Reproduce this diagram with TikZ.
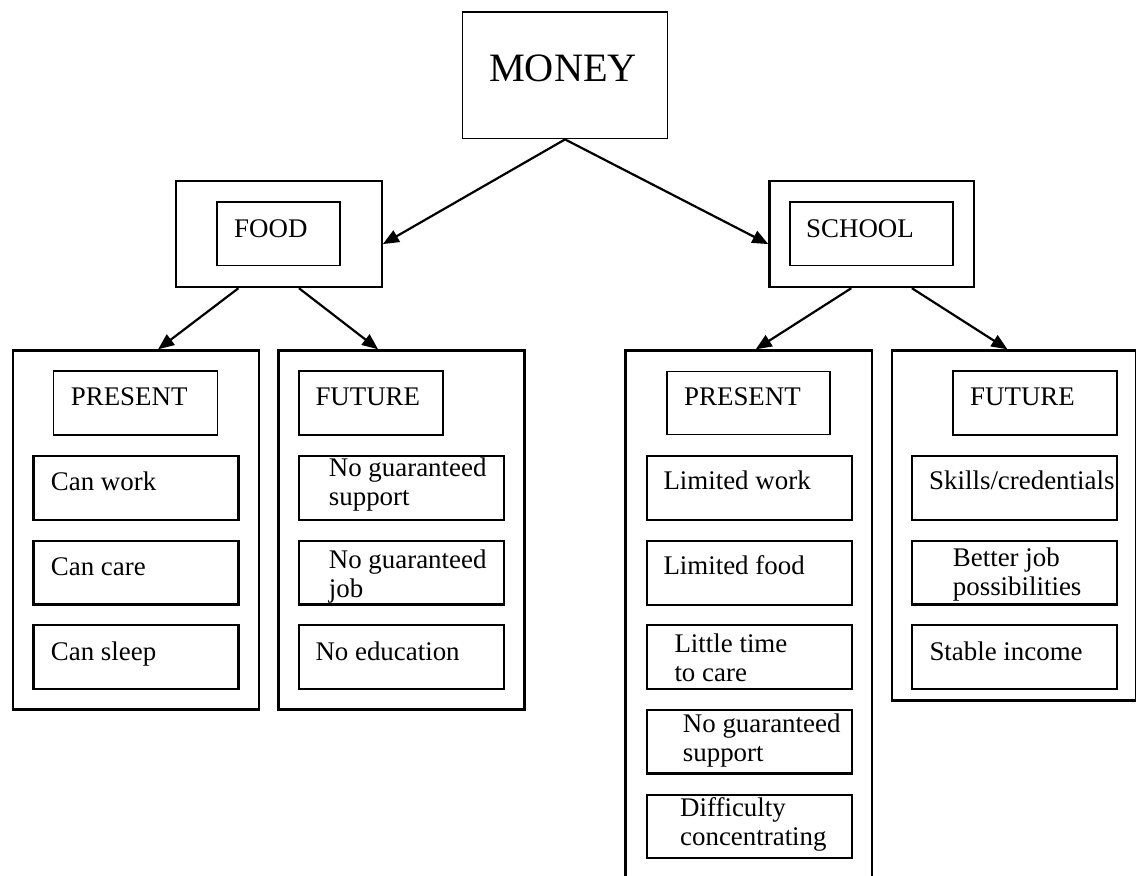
\documentclass[tikz,border=0pt]{standalone}
\usepackage{fontspec}
\setmainfont{Liberation Serif}
\usetikzlibrary{arrows.meta}
\newcommand{\twoline}[2]{\vtop{\hbox{#1}\hbox{#2}}}
\begin{document}
\begin{tikzpicture}[x=1pt,y=-1pt,
  outer/.style={draw, line width=2.2pt, inner sep=0pt, anchor=north west},
  hdr/.style={draw, line width=1.5pt, inner sep=0pt, anchor=north west},
  item/.style={draw, line width=2.2pt, inner sep=0pt, anchor=north west, minimum width=205pt},
  lbl/.style={anchor=base west, inner sep=0pt, font=\fontsize{26.9pt}{29pt}\selectfont},
  arr/.style={line width=2.2pt, -{Triangle[length=16pt,width=13pt]}}]
\useasboundingbox (0,0) rectangle (1136,876);
\clip (0,0) rectangle (1136,876);

% MONEY
\node[outer, line width=1.7pt, minimum width=205pt, minimum height=126.7pt] (money) at (461.7,11) {};
\node[anchor=base, inner sep=0pt, font=\fontsize{40.3pt}{44pt}\selectfont] (moneyt) at (563,81) {MONEY};

% FOOD
\node[outer, minimum width=205.7pt, minimum height=106pt] (foodbox) at (175,180) {};
\node[hdr, minimum width=123pt, minimum height=63.4pt] (foodhdr) at (216,201.3) {};
\node[lbl] (foodt) at (234,237) {FOOD};

% SCHOOL
\node[outer, minimum width=204.4pt, minimum height=106pt] (schoolbox) at (768.3,180) {};
\node[hdr, minimum width=163.3pt, minimum height=63.4pt] (schoolhdr) at (789,201.3) {};
\node[lbl] (schoolt) at (806,237) {SCHOOL};

% FOOD - PRESENT
\node[outer, minimum width=246pt, minimum height=359pt] (fp) at (11.7,349.3) {};
\node[hdr, minimum width=164pt, minimum height=64pt] (fph) at (52.7,370) {};
\node[lbl] (fpht) at (70.7,405.7) {PRESENT};
\node[item, minimum height=64pt] (fp1) at (32.3,455) {};
\node[lbl] (fp1t) at (50.7,490) {Can work};
\node[item, minimum height=63.3pt] (fp2) at (32.3,540) {};
\node[lbl] (fp2t) at (50.7,575) {Can care};
\node[item, minimum height=63.7pt] (fp3) at (32.3,624) {};
\node[lbl] (fp3t) at (50.7,660) {Can sleep};

% FOOD - FUTURE
\node[outer, minimum width=246pt, minimum height=359pt] (ff) at (277.3,349.3) {};
\node[hdr, minimum width=144pt, minimum height=64pt] (ffh) at (298,370) {};
\node[lbl] (ffht) at (315.3,405.7) {FUTURE};
\node[item, minimum height=64pt] (ff1) at (298,455) {};
\node[lbl] (ff1t) at (328.7,476.7) {\twoline{No guaranteed}{support}};
\node[item, minimum height=63.3pt] (ff2) at (298,540) {};
\node[lbl] (ff2t) at (328.7,568.3) {\twoline{No guaranteed}{job}};
\node[item, minimum height=63.7pt] (ff3) at (298,624) {};
\node[lbl] (ff3t) at (315.3,660) {No education};

% SCHOOL - PRESENT
\node[outer, minimum width=246.7pt, minimum height=560pt] (sp) at (624.3,349.3) {};
\node[hdr, minimum width=163.3pt, minimum height=63pt] (sph) at (666,370.5) {};
\node[lbl] (spht) at (684,405.6) {PRESENT};
\node[item, minimum height=64.4pt] (sp1) at (645.7,454.6) {};
\node[lbl] (sp1t) at (663.3,489.4) {Limited work};
\node[item, minimum height=63.5pt] (sp2) at (645.7,540) {};
\node[lbl] (sp2t) at (663.3,574.2) {Limited food};
\node[item, minimum height=64.4pt] (sp3) at (645.7,623.6) {};
\node[lbl] (sp3t) at (674.3,652.1) {\twoline{Little time}{to care}};
\node[item, minimum height=63.4pt] (sp4) at (645.7,709) {};
\node[lbl] (sp4t) at (682.7,732.5) {\twoline{No guaranteed}{support}};
\node[item, minimum height=63pt] (sp5) at (645.7,793.5) {};
\node[lbl] (sp5t) at (680,816.2) {\twoline{Difficulty}{concentrating}};

% SCHOOL - FUTURE
\node[outer, minimum width=244.3pt, minimum height=350pt] (sf) at (890.7,349.3) {};
\node[hdr, minimum width=164pt, minimum height=64pt] (sfh) at (952,370) {};
\node[lbl] (sfht) at (970,405.7) {FUTURE};
\node[item, minimum height=64pt] (sf1) at (911,455) {};
\node[lbl] (sf1t) at (929,489) {Skills/credentials};
\node[item, minimum height=63.3pt] (sf2) at (911,540) {};
\node[lbl] (sf2t) at (952.7,566.7) {\twoline{Better job}{possibilities}};
\node[item, minimum height=63.7pt] (sf3) at (911,624) {};
\node[lbl] (sf3t) at (929.3,660) {Stable income};

% connectors
\draw[arr] (money.south) -- ([yshift=-10pt]foodbox.east);
\draw[arr] (money.south) -- ([yshift=-10pt]schoolbox.west);
\draw[arr] ([xshift=-40.5pt]foodbox.south) -- ([xshift=22.3pt]fp.north);
\draw[arr] ([xshift=20pt]foodbox.south) -- ([xshift=-23.3pt]ff.north);
\draw[arr] ([xshift=-20.3pt]schoolbox.south) -- ([xshift=7pt]sp.north);
\draw[arr] ([xshift=40.3pt]schoolbox.south) -- ([xshift=-6.5pt]sf.north);
\end{tikzpicture}
\end{document}
